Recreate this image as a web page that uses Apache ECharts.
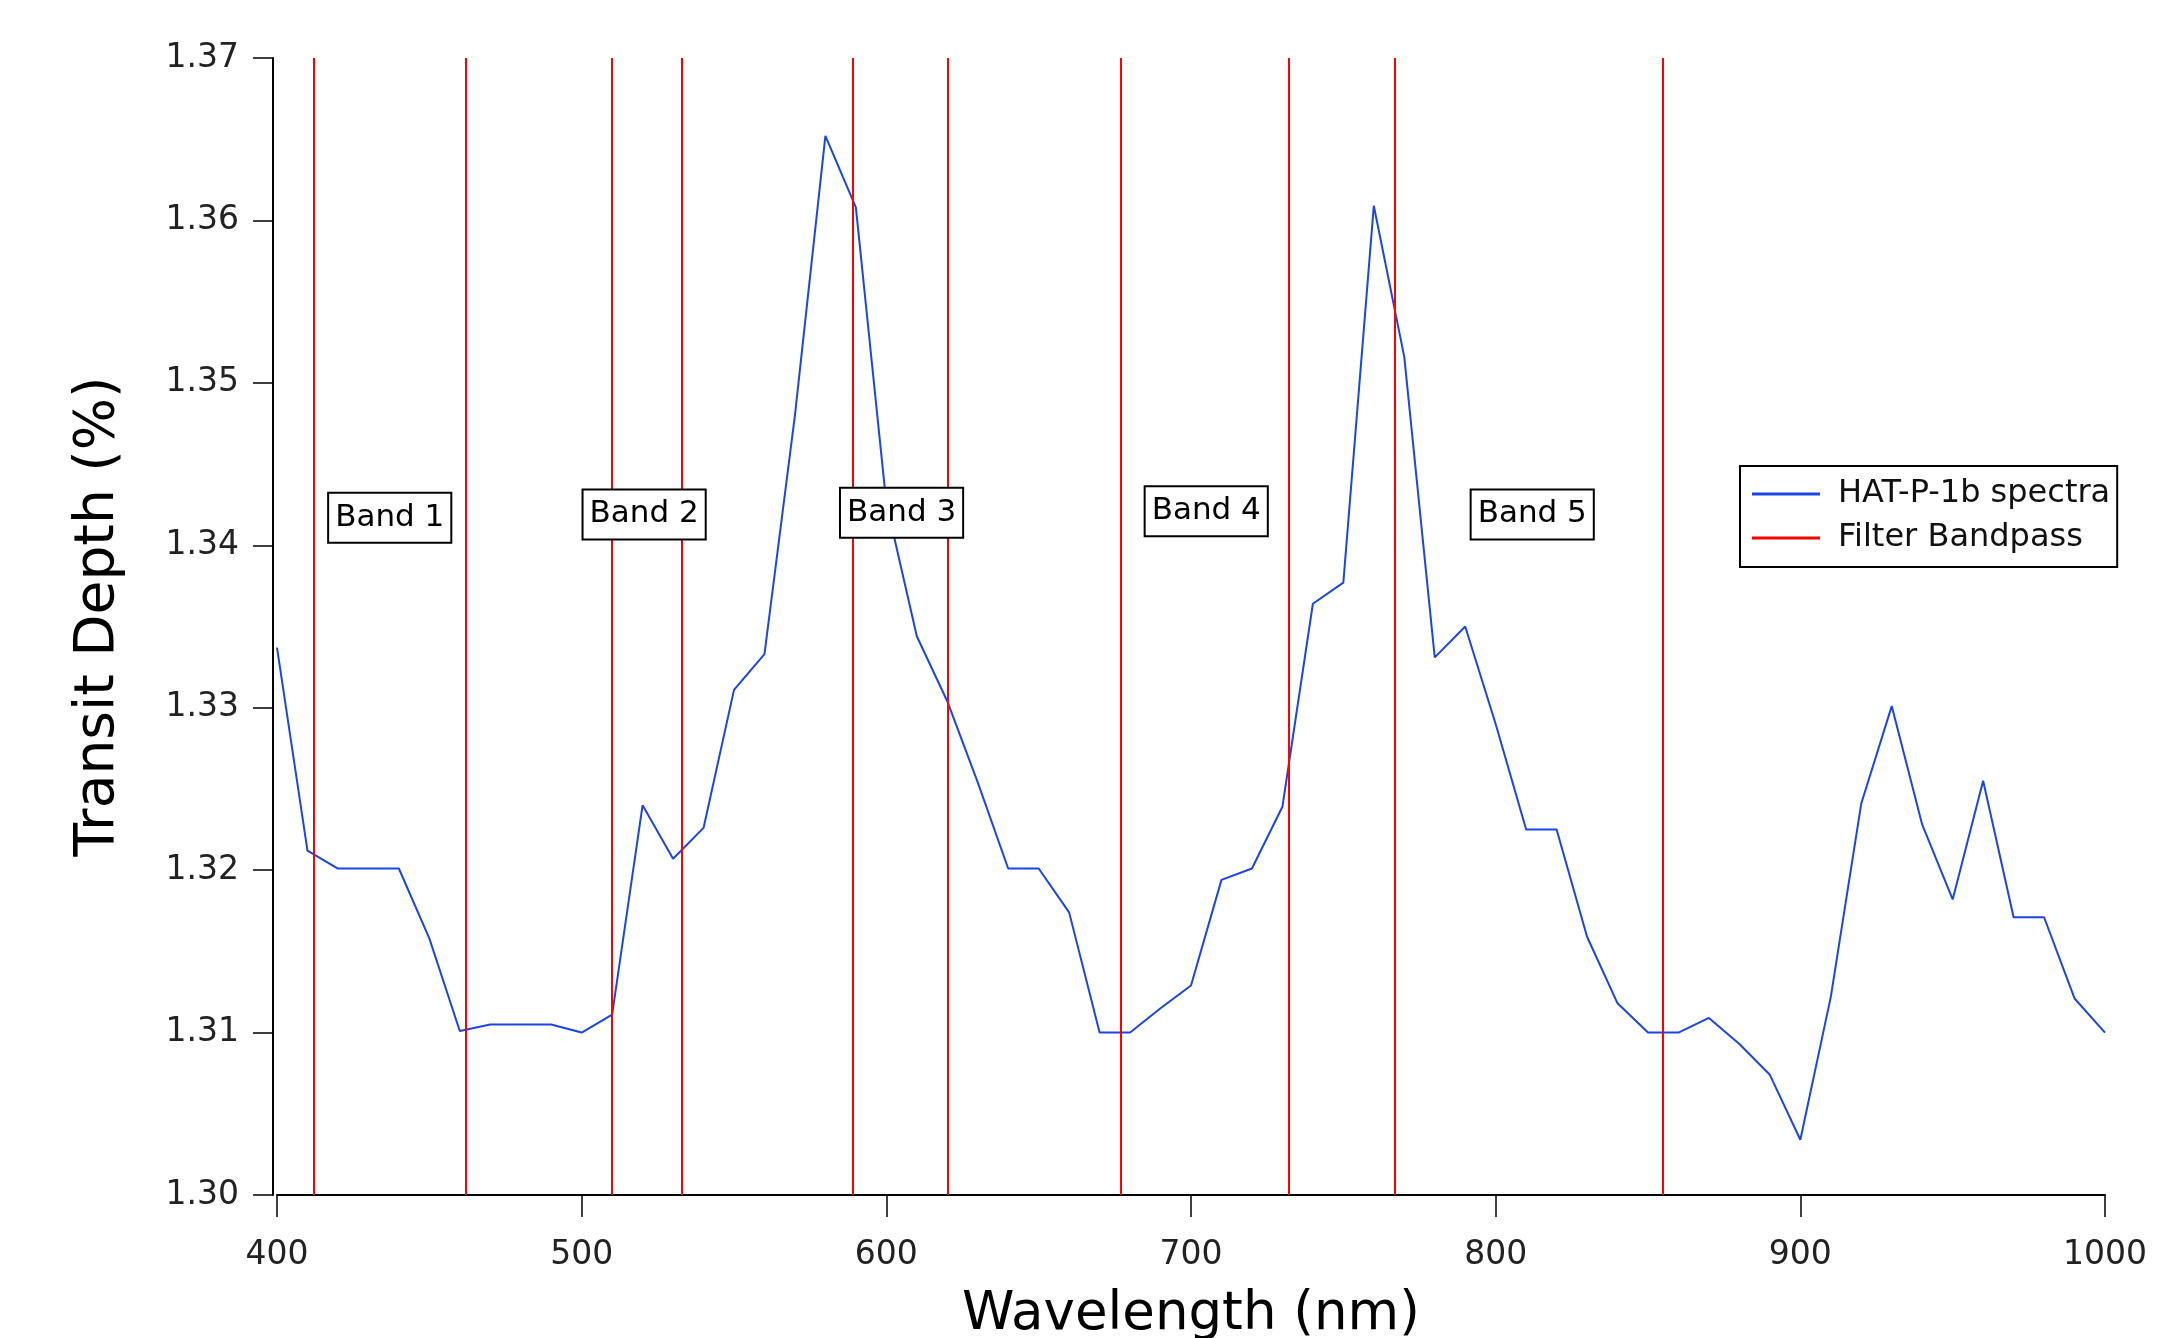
<!DOCTYPE html>
<html>
<head>
<meta charset="utf-8">
<script src="https://cdn.jsdelivr.net/npm/echarts@6/dist/echarts.min.js"></script>
<style>
  html, body { margin: 0; padding: 0; background: #fff; }
  #chart { width: 2171px; height: 1338px; }
</style>
</head>
<body>
<div id="chart"></div>
<script>
// wavelength grid (nm) and measured transit depth (%)
const wavelengths = [400, 410, 420, 430, 440, 450, 460, 470, 480, 490,
  500, 510, 520, 530, 540, 550, 560, 570, 580, 590,
  600, 610, 620, 630, 640, 650, 660, 670, 680, 690,
  700, 710, 720, 730, 740, 750, 760, 770, 780, 790,
  800, 810, 820, 830, 840, 850, 860, 870, 880, 890,
  900, 910, 920, 930, 940, 950, 960, 970, 980, 990, 1000];
const depths = [1.3337, 1.3212, 1.3201, 1.3201, 1.3201, 1.3158, 1.3101, 1.3105, 1.3105, 1.3105,
  1.3100, 1.3111, 1.3240, 1.3207, 1.3226, 1.3311, 1.3333, 1.3480, 1.3652, 1.3608,
  1.3426, 1.3344, 1.3304, 1.3254, 1.3201, 1.3201, 1.3174, 1.3100, 1.3100, 1.3115,
  1.3129, 1.3194, 1.3201, 1.3239, 1.3364, 1.3377, 1.3609, 1.3516, 1.3331, 1.3350,
  1.3290, 1.3225, 1.3225, 1.3159, 1.3118, 1.3100, 1.3100, 1.3109, 1.3093, 1.3074,
  1.3034, 1.3122, 1.3241, 1.3301, 1.3228, 1.3182, 1.3255, 1.3171, 1.3171, 1.3121, 1.3100];

// filter band edges (nm)
const filterEdges = [412, 462, 510, 533, 589, 620, 677, 732, 767, 855];

// band label annotations
const bandNames = ['Band 1', 'Band 2', 'Band 3', 'Band 4', 'Band 5'];
const bandX = [437, 520.5, 605, 705, 812];
const bandY = [1.3417, 1.3419, 1.3420, 1.3421, 1.3419];

const font = 'DejaVu Sans';
const chart = echarts.init(document.getElementById('chart'));

chart.setOption({
  animation: false,
  backgroundColor: '#fff',
  grid: {
    left: 277,
    right: 66,
    top: 58,
    bottom: 143,
    containLabel: false,
    outerBoundsMode: 'none'
  },
  legend: {
    data: ['HAT-P-1b spectra', 'Filter Bandpass'],
    orient: 'vertical',
    left: 1740,
    top: 466,
    padding: [10, 7, 11, 12],
    itemGap: 8,
    itemWidth: 68,
    itemHeight: 3,
    icon: 'rect',
    borderColor: '#000',
    borderWidth: 2,
    textStyle: {
      fontFamily: font,
      fontSize: 32,
      lineHeight: 36,
      color: '#111',
      padding: [0, 0, 0, 13]
    }
  },
  xAxis: {
    type: 'value',
    min: 400,
    max: 1000,
    interval: 100,
    name: 'Wavelength (nm)',
    nameLocation: 'middle',
    nameGap: 94,
    nameTextStyle: { fontFamily: font, fontSize: 53, color: '#000' },
    axisLine: { lineStyle: { color: '#000', width: 2 } },
    axisTick: { length: 22, lineStyle: { color: '#000', width: 1.5 } },
    axisLabel: {
      fontFamily: font, fontSize: 33, color: '#222', margin: 44,
      formatter: v => String(v)
    },
    splitLine: { show: false }
  },
  yAxis: {
    type: 'value',
    min: 1.30,
    max: 1.37,
    interval: 0.01,
    offset: 4,
    name: 'Transit Depth (%)',
    nameLocation: 'middle',
    nameGap: 147,
    nameTextStyle: { fontFamily: font, fontSize: 55, color: '#000', padding: [0, 0, 0, 20] },
    axisLine: { show: true, lineStyle: { color: '#000', width: 2 } },
    axisTick: { show: true, length: 20, lineStyle: { color: '#000', width: 1.5 } },
    axisLabel: {
      fontFamily: font, fontSize: 33, color: '#222', margin: 34,
      formatter: v => v.toFixed(2)
    },
    splitLine: { show: false }
  },
  series: [
    {
      name: 'HAT-P-1b spectra',
      type: 'line',
      data: wavelengths.map((w, i) => [w, depths[i]]),
      showSymbol: false,
      symbol: 'none',
      itemStyle: { color: '#1c45e6' },
      lineStyle: { color: '#1c45e6', width: 2 },
      z: 3
    },
    {
      name: 'Filter Bandpass',
      type: 'line',
      data: [],
      symbol: 'none',
      itemStyle: { color: '#ff0000' },
      lineStyle: { color: '#ff0000', width: 2 },
      markLine: {
        silent: true,
        symbol: ['none', 'none'],
        label: { show: false },
        lineStyle: { color: '#ff0000', width: 2, type: 'solid' },
        data: filterEdges.map(x => ({ xAxis: x }))
      },
      z: 2
    },
    {
      name: 'bands',
      type: 'scatter',
      symbolSize: 0,
      silent: true,
      z: 10,
      itemStyle: { opacity: 1 },
      data: bandNames.map((n, i) => ({ name: n, value: [bandX[i], bandY[i]] })),
      label: {
        show: true,
        position: 'inside',
        formatter: p => p.name,
        fontFamily: font,
        fontSize: 31,
        color: '#000',
        opacity: 1,
        backgroundColor: '#fff',
        borderColor: '#000',
        borderWidth: 2,
        padding: [9, 6, 8, 6]
      }
    }
  ]
});
</script>
</body>
</html>
